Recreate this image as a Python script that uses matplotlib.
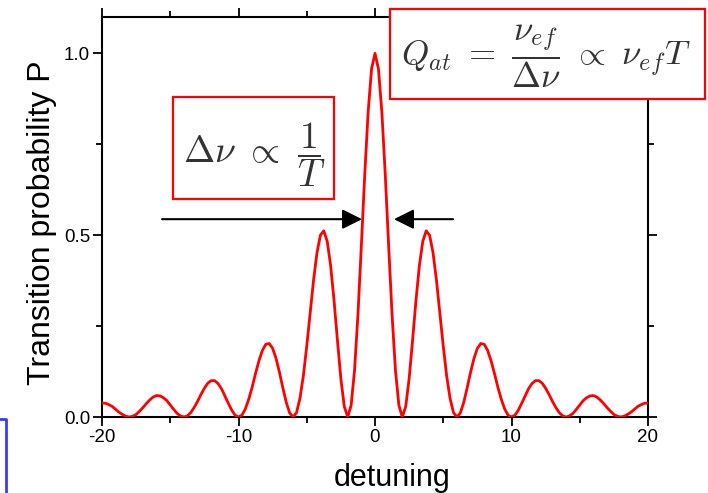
import numpy as np
import matplotlib
matplotlib.use("Agg")
import matplotlib.pyplot as plt
from matplotlib.patches import Rectangle
from matplotlib.lines import Line2D

plt.rcParams['font.family'] = ['Liberation Sans', 'DejaVu Sans']
plt.rcParams['mathtext.fontset'] = 'cm'

# detuning values (right half, curve is symmetric)
x_half = [0.25 * i for i in range(81)]
p_half = [1.000, 0.958, 0.840, 0.668, 0.471, 0.281, 0.128, 0.032,
          0.000, 0.029, 0.105, 0.210, 0.320, 0.416, 0.483, 0.512,
          0.500, 0.452, 0.377, 0.287, 0.195, 0.113, 0.051, 0.012,
          0.000, 0.011, 0.040, 0.080, 0.123, 0.161, 0.189, 0.202,
          0.200, 0.183, 0.155, 0.120, 0.082, 0.049, 0.022, 0.005,
          0.000, 0.005, 0.019, 0.038, 0.058, 0.078, 0.092, 0.100,
          0.100, 0.093, 0.079, 0.062, 0.043, 0.026, 0.012, 0.003,
          0.000, 0.003, 0.010, 0.021, 0.033, 0.045, 0.053, 0.058,
          0.059, 0.055, 0.047, 0.037, 0.026, 0.016, 0.007, 0.002,
          0.000, 0.002, 0.007, 0.013, 0.021, 0.029, 0.034, 0.038,
          0.038]

x_vals = [-v for v in x_half[:0:-1]] + x_half
p_vals = p_half[:0:-1] + p_half

x_ticks = [-20, -10, 0, 10, 20]
x_minor = [-15, -5, 5, 15]
y_ticks = [0.0, 0.5, 1.0]
y_minor = [0.25, 0.75]

W, H = 708, 493
fig = plt.figure(figsize=(W / 100, H / 100), dpi=100)
ax = fig.add_axes([102 / W, 1 - 417 / H, 546 / W, 400 / H])

ax.plot(x_vals, p_vals, color='#ff0000', lw=2.0, zorder=3)
ax.set_xlim(-20, 20)
ax.set_ylim(0, 1.1)

ax.set_xticks(x_ticks)
ax.set_xticklabels([str(t) for t in x_ticks])
ax.set_xticks(x_minor, minor=True)
ax.set_yticks(y_ticks)
ax.set_yticklabels(['%.1f' % t for t in y_ticks])
ax.set_yticks(y_minor, minor=True)

for s in ax.spines.values():
    s.set_linewidth(1.5)
ax.tick_params(which='both', direction='out', top=True, right=True,
               width=1.3, labelsize=13.5, pad=2)
ax.tick_params(which='major', length=6.5)
ax.tick_params(which='minor', length=4)

ax.set_xlabel('detuning', fontsize=22)
ax.xaxis.set_label_coords(0.532, -0.172)
ax.xaxis.label.set_va('baseline')
ax.set_ylabel('Transition probability P', fontsize=23)
ax.yaxis.set_label_coords(-0.0833, 0.485)

# arrows
arrow_y = 0.544
ax.annotate('', xy=(-0.95, arrow_y), xytext=(-15.6, arrow_y),
            arrowprops=dict(arrowstyle='-|>,head_length=0.6,head_width=0.3',
                            color='black', lw=1.5, mutation_scale=20,
                            shrinkA=0, shrinkB=0), zorder=4)
ax.annotate('', xy=(1.39, arrow_y), xytext=(5.71, arrow_y),
            arrowprops=dict(arrowstyle='-|>,head_length=0.6,head_width=0.3',
                            color='black', lw=1.5, mutation_scale=20,
                            shrinkA=0, shrinkB=0), zorder=4)

# boxes
r1 = Rectangle((173 / W, 1 - 199 / H), 161 / W, 102 / H, transform=fig.transFigure,
               facecolor='white', edgecolor='#ff0000', lw=1.6, zorder=10)
r2 = Rectangle((390 / W, 1 - 99 / H), 315 / W, 90 / H, transform=fig.transFigure,
               facecolor='white', edgecolor='#ff0000', lw=1.6, zorder=10)
fig.add_artist(r1)
fig.add_artist(r2)
fig.text(254 / W, 1 - 155 / H, r'$\Delta\nu\ \propto\ \dfrac{1}{T}$', fontsize=27,
         color='#333333', ha='center', va='center', zorder=11)
fig.text(546 / W, 1 - 56 / H,
         r'$Q_{at}\ =\ \dfrac{\nu_{ef}}{\Delta\nu}\ \propto\ \nu_{ef}T$',
         fontsize=25, color='#333333', ha='center', va='center', zorder=11)

# partial blue frame at lower left
fig.add_artist(Line2D([6 / W, 6 / W, 0], [0, 1 - 419 / H, 1 - 419 / H],
                      transform=fig.transFigure, color='#3a3aff', lw=2))

fig.savefig('out.png', dpi=100)
